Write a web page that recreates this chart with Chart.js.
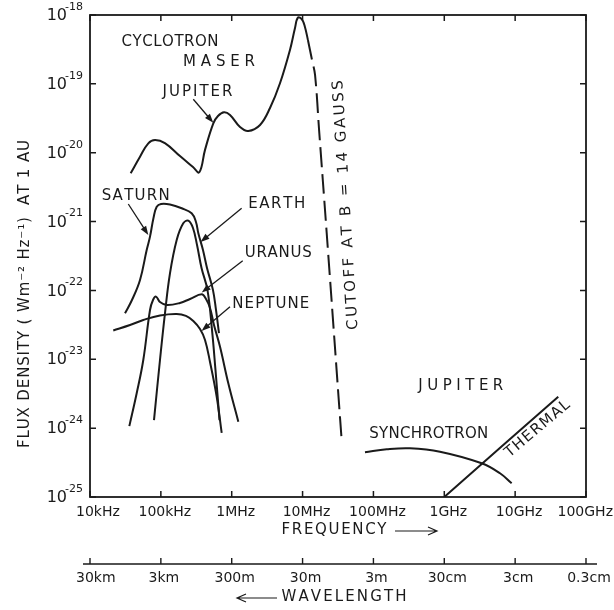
<!DOCTYPE html>
<html>
<head>
<meta charset="utf-8">
<script src="https://cdn.jsdelivr.net/npm/chart.js@4.4.0/dist/chart.umd.min.js"></script>
<style>
  html, body { margin: 0; padding: 0; background: #ffffff; }
  canvas { display: block; }
</style>
</head>
<body>
<canvas id="radioChart" width="614" height="610"></canvas>
<script>
// axes
const freqTicks = [1e4, 1e5, 1e6, 1e7, 1e8, 1e9, 1e10, 1e11];
const freqLabels = ['10kHz', '100kHz', '1MHz', '10MHz', '100MHz', '1GHz', '10GHz', '100GHz'];
const waveLabels = ['30km', '3km', '300m', '30m', '3m', '30cm', '3cm', '0.3cm'];
const fluxTicks = [1e-25, 1e-24, 1e-23, 1e-22, 1e-21, 1e-20, 1e-19, 1e-18];
const fluxExp = ['-25', '-24', '-23', '-22', '-21', '-20', '-19', '-18'];

// Jupiter cyclotron maser (Hz, W m^-2 Hz^-1)
const jupiterFreq = [3.75e4, 5.08e4, 6.65e4, 8.27e4, 1.14e5, 1.86e5, 2.84e5, 3.49e5, 4.20e5, 5.50e5, 6.40e5, 7.78e5,
                     9.46e5, 1.31e6, 1.71e6, 2.51e6, 3.47e6, 4.80e6, 6.64e6, 7.82e6, 8.61e6, 9.82e6, 1.08e7, 1.19e7];
const jupiterFlux = [5.03e-21, 8.75e-21, 1.37e-20, 1.53e-20, 1.38e-20, 8.95e-21, 6.21e-21, 5.20e-21, 1.10e-20, 2.67e-20, 3.41e-20, 3.86e-20,
                     3.53e-20, 2.36e-20, 2.07e-20, 2.53e-20, 4.46e-20, 1.02e-19, 3.11e-19, 6.48e-19, 9.2e-19, 8.6e-19, 6.7e-19, 4.34e-19];

// cutoff at B = 14 gauss (dashed)
const cutoffFreq = [1.19e7, 1.36e7, 1.50e7, 1.71e7, 2.19e7, 3.56e7];
const cutoffFlux = [4.34e-19, 2.22e-19, 1.35e-19, 2.14e-20, 6.82e-22, 6.73e-25];

const saturnFreq = [3.12e4, 3.91e4, 5.08e4, 6.31e4, 7.03e4, 7.87e4, 8.74e4, 1.005e5, 1.345e5, 1.97e5, 2.72e5, 3.13e5,
                    3.38e5, 3.93e5, 4.48e5, 5.44e5, 6.00e5, 6.61e5];
const saturnFlux = [4.66e-23, 7.26e-23, 1.42e-22, 3.87e-22, 6.04e-22, 1.13e-21, 1.64e-21, 1.80e-21, 1.77e-21, 1.56e-21, 1.32e-21, 9.86e-22,
                    6.76e-22, 3.87e-22, 2.12e-22, 1.01e-22, 5.20e-23, 2.39e-23];

const earthFreq = [8.00e4, 9.72e4, 1.143e5, 1.345e5, 1.673e5, 2.07e5, 2.44e5, 2.84e5, 3.24e5, 3.75e5, 4.55e5, 5.27e5,
                   5.90e5, 6.47e5, 6.72e5];
const earthFlux = [1.31e-24, 9.77e-24, 4.66e-23, 1.77e-22, 5.40e-22, 9.44e-22, 1.03e-21, 8.07e-22, 4.57e-22, 2.12e-22, 1.01e-22, 2.67e-23,
                   7.00e-24, 2.17e-24, 1.31e-24];

const uranusFreq = [3.59e4, 4.56e4, 5.65e4, 7.03e4, 7.75e4, 8.54e4, 9.72e4, 1.21e5, 1.86e5, 2.58e5, 3.77e5, 4.34e5,
                    4.94e5, 5.62e5, 6.84e5, 8.95e5, 1.24e6];
const uranusFlux = [1.07e-24, 3.21e-24, 9.77e-24, 5.20e-23, 7.26e-23, 8.12e-23, 6.80e-23, 6.15e-23, 6.58e-23, 7.51e-23, 8.79e-23, 7.51e-23,
                    5.56e-23, 3.15e-23, 1.52e-23, 4.48e-24, 1.24e-24];

const neptuneFreq = [2.13e4, 3.67e4, 5.65e4, 9.72e4, 1.673e5, 2.26e5, 2.87e5, 3.57e5, 4.20e5, 4.94e5, 6.14e5, 7.22e5];
const neptuneFlux = [2.62e-23, 3.15e-23, 3.72e-23, 4.33e-23, 4.55e-23, 4.26e-23, 3.60e-23, 2.75e-23, 1.91e-23, 9.14e-24, 2.86e-24, 8.51e-25];

const synchFreq = [7.60e7, 1.54e8, 3.28e8, 8.69e8, 3.37e9, 6.11e9, 8.93e9];
const synchFlux = [4.46e-25, 4.93e-25, 5.10e-25, 4.55e-25, 3.09e-25, 2.21e-25, 1.58e-25];

const thermalFreq = [1e9, 4.06e10];
const thermalFlux = [1e-25, 2.86e-24];

const ink = '#1a1a1a';
const font = '"DejaVu Sans", "Liberation Sans", sans-serif';

function pts(fs, ss) {
    return fs.map((f, i) => ({ x: f, y: ss[i] }));
}

function curve(data, dash) {
    return {
        data: data,
        showLine: true,
        borderColor: ink,
        borderWidth: 2,
        borderDash: dash || [],
        pointRadius: 0,
        fill: false,
        tension: 0.4
    };
}

// text spread to a given width, centred on (cx, cy)
function spaced(ctx, text, cx, cy, width, angle) {
    const chars = [...text];
    const ws = chars.map(c => ctx.measureText(c).width);
    const total = ws.reduce((s, w) => s + w, 0);
    const gap = chars.length > 1 ? (width - total) / (chars.length - 1) : 0;
    ctx.save();
    ctx.translate(cx, cy);
    ctx.rotate((angle || 0) * Math.PI / 180);
    ctx.textAlign = 'left';
    ctx.textBaseline = 'middle';
    let xx = -width / 2;
    chars.forEach((c, i) => {
        ctx.fillText(c, xx, 0);
        xx += ws[i] + gap;
    });
    ctx.restore();
}

function arrow(ctx, x1, y1, x2, y2) {
    const a = Math.atan2(y2 - y1, x2 - x1);
    const len = 9, half = 3.2;
    ctx.beginPath();
    ctx.moveTo(x1, y1);
    ctx.lineTo(x2 - Math.cos(a) * len * 0.8, y2 - Math.sin(a) * len * 0.8);
    ctx.stroke();
    ctx.beginPath();
    ctx.moveTo(x2, y2);
    ctx.lineTo(x2 - Math.cos(a) * len - Math.sin(a) * half, y2 - Math.sin(a) * len + Math.cos(a) * half);
    ctx.lineTo(x2 - Math.cos(a) * len + Math.sin(a) * half, y2 - Math.sin(a) * len - Math.cos(a) * half);
    ctx.closePath();
    ctx.fill();
}

function openArrow(ctx, x1, x2, y) {
    const d = x2 > x1 ? 1 : -1;
    ctx.beginPath();
    ctx.moveTo(x1, y);
    ctx.lineTo(x2, y);
    ctx.moveTo(x2 - d * 9, y - 4);
    ctx.lineTo(x2, y);
    ctx.lineTo(x2 - d * 9, y + 4);
    ctx.stroke();
}

// labels in data coords: text, freq, flux, width, angle
const notes = [
    ['CYCLOTRON', 1.35e5, 3.99e-19, 97, 0],
    ['MASER', 6.62e5, 2.04e-19, 72, 0],
    ['JUPITER', 3.29e5, 7.53e-20, 70, 0],
    ['SATURN', 4.43e4, 2.35e-21, 68, 0],
    ['EARTH', 4.31e6, 1.78e-21, 57, 0],
    ['URANUS', 4.54e6, 3.50e-22, 67, 0],
    ['NEPTUNE', 3.56e6, 6.35e-23, 77, 0],
    ['JUPITER', 1.71e9, 4.09e-24, 85, 0],
    ['SYNCHROTRON', 6.04e8, 8.22e-25, 119, 0],
    ['THERMAL', 2.07e10, 9.73e-25, 80, -40],
    ['CUTOFF AT B = 14 GAUSS', 4.10e7, 1.74e-21, 250, -93.5]
];

const arrows = [
    [2.87e5, 5.97e-20, 5.50e5, 2.73e-20],
    [3.47e4, 1.80e-21, 6.65e4, 6.38e-22],
    [1.38e6, 1.56e-21, 3.63e5, 5.05e-22],
    [1.43e6, 2.70e-22, 3.77e5, 9.33e-23],
    [9.46e5, 5.81e-23, 3.75e5, 2.58e-23]
];

const extras = {
    id: 'extras',
    beforeDraw(chart) {
        const ctx = chart.ctx;
        ctx.save();
        ctx.fillStyle = '#ffffff';
        ctx.fillRect(0, 0, chart.width, chart.height);
        ctx.restore();
    },
    afterDraw(chart) {
        const ctx = chart.ctx;
        const a = chart.chartArea;
        const x = chart.scales.x, y = chart.scales.y;
        ctx.save();
        ctx.strokeStyle = ink;
        ctx.fillStyle = ink;

        // frame
        ctx.lineWidth = 1.8;
        ctx.strokeRect(a.left, a.top, a.right - a.left, a.bottom - a.top);

        // inside ticks
        ctx.lineWidth = 1.5;
        ctx.beginPath();
        freqTicks.forEach(v => {
            const px = x.getPixelForValue(v);
            ctx.moveTo(px, a.bottom); ctx.lineTo(px, a.bottom - 6);
            ctx.moveTo(px, a.top); ctx.lineTo(px, a.top + 6);
        });
        fluxTicks.forEach(v => {
            const py = y.getPixelForValue(v);
            ctx.moveTo(a.left, py); ctx.lineTo(a.left + 6, py);
            ctx.moveTo(a.right, py); ctx.lineTo(a.right - 6, py);
        });
        ctx.stroke();

        // y labels 10^n
        fluxTicks.forEach((v, i) => {
            const py = y.getPixelForValue(v);
            ctx.font = '16px ' + font;
            ctx.textAlign = 'right';
            ctx.textBaseline = 'middle';
            ctx.fillText('10', a.left - 23, py + 1);
            ctx.font = '11px ' + font;
            ctx.textAlign = 'left';
            ctx.fillText(fluxExp[i], a.left - 25, py - 8);
        });

        // frequency labels
        ctx.font = '14px ' + font;
        ctx.textBaseline = 'middle';
        ctx.textAlign = 'center';
        freqTicks.forEach((v, i) => {
            const w = ctx.measureText(freqLabels[i]).width;
            let cx = x.getPixelForValue(v) + 4;
            cx = Math.max(cx, 76 + w / 2);
            cx = Math.min(cx, chart.width - 1 - w / 2);
            ctx.fillText(freqLabels[i], cx, a.bottom + 15);
        });

        // wavelength axis
        const wy = a.bottom + 67;
        ctx.lineWidth = 1.4;
        ctx.beginPath();
        ctx.moveTo(a.left - 7, wy);
        ctx.lineTo(a.right + 11, wy);
        freqTicks.forEach(v => {
            const px = x.getPixelForValue(v);
            ctx.moveTo(px, wy);
            ctx.lineTo(px, wy - 6);
        });
        ctx.stroke();
        freqTicks.forEach((v, i) => {
            const w = ctx.measureText(waveLabels[i]).width;
            let cx = x.getPixelForValue(v) + 3;
            cx = Math.max(cx, 76 + w / 2);
            cx = Math.min(cx, chart.width - 1 - w / 2);
            ctx.fillText(waveLabels[i], cx, wy + 14);
        });

        // axis titles
        ctx.font = '15px ' + font;
        spaced(ctx, 'FREQUENCY', 334, a.bottom + 33, 105, 0);
        ctx.lineWidth = 1.2;
        openArrow(ctx, 395, 437, a.bottom + 34);
        spaced(ctx, 'WAVELENGTH', 344, wy + 33, 125, 0);
        openArrow(ctx, 277, 237, wy + 34);
        spaced(ctx, 'FLUX DENSITY ( Wm\u207B\u00B2 Hz\u207B\u00B9)  AT 1 AU', 25, 294, 308, -90);

        // notes and arrows
        notes.forEach(n => {
            spaced(ctx, n[0], x.getPixelForValue(n[1]), y.getPixelForValue(n[2]), n[3], n[4]);
        });
        ctx.lineWidth = 1.3;
        arrows.forEach(r => {
            arrow(ctx, x.getPixelForValue(r[0]), y.getPixelForValue(r[1]),
                       x.getPixelForValue(r[2]), y.getPixelForValue(r[3]));
        });
        ctx.restore();
    }
};

window.onload = function() {
    const ctx = document.getElementById('radioChart').getContext('2d');
    const chart = new Chart(ctx, {
        type: 'scatter',
        data: {
            datasets: [
                curve(pts(jupiterFreq, jupiterFlux)),
                curve(pts(cutoffFreq, cutoffFlux), [20, 7]),
                curve(pts(saturnFreq, saturnFlux)),
                curve(pts(earthFreq, earthFlux)),
                curve(pts(uranusFreq, uranusFlux)),
                curve(pts(neptuneFreq, neptuneFlux)),
                curve(pts(synchFreq, synchFlux)),
                curve(pts(thermalFreq, thermalFlux))
            ]
        },
        options: {
            responsive: false,
            animation: false,
            devicePixelRatio: 1,
            layout: {
                padding: { left: 90, right: 28, top: 15, bottom: 113 }
            },
            scales: {
                x: { type: 'logarithmic', min: 1e4, max: 1e11, display: false },
                y: { type: 'logarithmic', min: 1e-25, max: 1e-18, display: false }
            },
            plugins: {
                legend: { display: false },
                tooltip: { enabled: false }
            }
        },
        plugins: [extras]
    });
};
</script>
</body>
</html>
